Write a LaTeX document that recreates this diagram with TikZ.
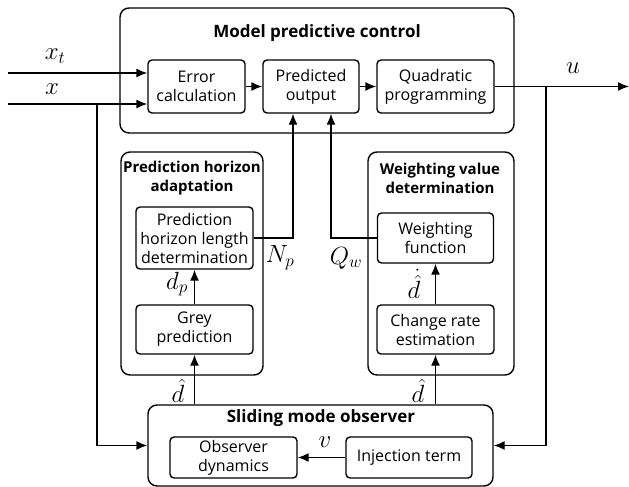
\documentclass[tikz,border=0pt]{standalone}
\usepackage{fontspec}
\setmainfont{Open Sans}
\usetikzlibrary{arrows.meta}
\begin{document}
\begin{tikzpicture}[x=1pt,y=-1pt, line width=1.4pt, >={Latex[length=11pt,width=9pt]},
  outer/.style={draw, rounded corners=9pt, inner sep=0pt},
  blk/.style={draw, rounded corners=4pt, align=center, inner sep=0pt, font=\fontsize{16}{19}\selectfont},
  ttl/.style={font=\fontsize{17}{19}\selectfont\bfseries, align=center, inner sep=0pt},
  ttls/.style={font=\fontsize{15}{19}\selectfont\bfseries, align=center, inner sep=0pt},
  lbl/.style={font=\fontsize{23}{23}\selectfont, inner sep=0pt}]
\useasboundingbox (0,0) rectangle (629,487);
% outer boxes
\node[outer, minimum width=394pt, minimum height=125pt] (mpc) at (317,70.5) {};
\node[outer, minimum width=142pt, minimum height=223pt] (pha) at (192,263.5) {};
\node[outer, minimum width=146pt, minimum height=223pt] (wvd) at (441,263.5) {};
\node[outer, minimum width=345pt, minimum height=81pt] (smo) at (320.5,445.5) {};
% titles
\node[ttl] (tmpc) at (317,33) {Model predictive control};
\node[ttls] (tpha) at (192,178.5) {Prediction horizon\\adaptation};
\node[ttls] (twvd) at (440,178.5) {Weighting value\\determination};
\node[ttl] (tsmo) at (321,418) {Sliding mode observer};
% inner blocks
\node[blk, minimum width=97pt, minimum height=53pt] (err) at (196.5,86.5) {Error\\calculation};
\node[blk, minimum width=96pt, minimum height=53pt] (pred) at (311,86.5) {Predicted\\output};
\node[blk, minimum width=117pt, minimum height=53pt] (qp) at (435.5,86.5) {Quadratic\\programming};
\node[blk, minimum width=117pt, minimum height=62pt] (phld) at (194.5,238) {Prediction\\horizon length\\determination};
\node[blk, minimum width=117pt, minimum height=49pt] (grey) at (194.5,329.5) {Grey\\prediction};
\node[blk, minimum width=116pt, minimum height=50pt] (wf) at (435.5,238) {Weighting\\function};
\node[blk, minimum width=117pt, minimum height=49pt] (cre) at (435.5,329.5) {Change rate\\estimation};
\node[blk, minimum width=127pt, minimum height=41pt] (obs) at (233.5,457.5) {Observer\\dynamics};
\node[blk, minimum width=126pt, minimum height=41pt] (inj) at (409,457.5) {Injection term};
% free ends
\coordinate (xtin) at (8,73);
\coordinate (xin) at (8,104);
\coordinate (xb) at (97,104);
\coordinate (uout) at (629,86.5);
\coordinate (ub) at (546,86.5);
% connectors
\draw[->] (xtin) -- (xtin -| err.west);
\draw[->] (xin) -- (xin -| err.west);
\draw[->] (err) -- (pred);
\draw[->] (pred) -- (qp);
\draw[->] (qp) -- (uout);
\draw[->] (xb) |- (smo.west);
\draw[->] (ub) |- (smo.east);
\draw[->] (phld.east) -| ([xshift=-18pt]pred.south);
\draw[->] (wf.west) -| ([xshift=20pt]pred.south);
\draw[->] (grey) -- (phld);
\draw[->] (smo.north -| grey) -- (grey);
\draw[->] (cre) -- (wf);
\draw[->] (smo.north -| cre) -- (cre);
\draw[->] (inj) -- (obs);
% labels
\node[lbl] (lxt) at (55,56) {$x_t$};
\node[lbl] (lx) at (52,89) {$x$};
\node[lbl] (lu) at (573,68) {$u$};
\node[lbl] (lnp) at (280,258) {$N_p$};
\node[lbl] (lqw) at (346,258) {$Q_w$};
\node[lbl] (ldp) at (177,284) {$d_p$};
\node[lbl] (lddot) at (414,284) {$\skew{5}{\dot}{\hat{d}}$};
\node[lbl] (ldh1) at (178,391) {$\hat{d}$};
\node[lbl] (ldh2) at (418,391) {$\hat{d}$};
\node[lbl] (lv) at (325,442) {$v$};
\end{tikzpicture}
\end{document}
